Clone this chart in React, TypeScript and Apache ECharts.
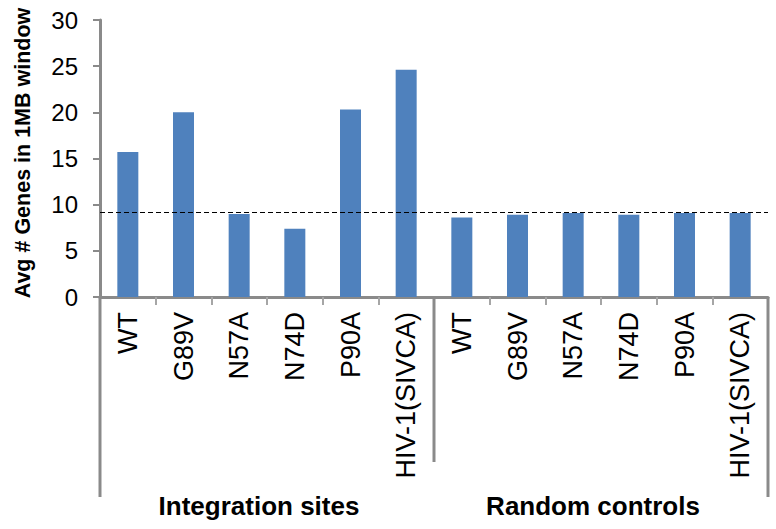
import React, { useEffect, useRef } from "react";
import * as echarts from "echarts";

const categories = ["WT", "G89V", "N57A", "N74D", "P90A", "HIV-1(SIVCA)", "WT", "G89V", "N57A", "N74D", "P90A", "HIV-1(SIVCA)"];
const values = [15.7, 20.0, 9.0, 7.4, 20.3, 24.6, 8.6, 8.9, 9.1, 8.9, 9.1, 9.1];
const groups = ["Integration sites", "Random controls"];
const groupSizes = [6, 6];
const referenceLevel = 9.15;
const yTicks = [0, 5, 10, 15, 20, 25, 30];
const yTitle = "Avg # Genes in 1MB window";

const W = 776;
const H = 529;
const GRID_LEFT = 100;
const GRID_RIGHT = 8;
const GRID_TOP = 20;
const GRID_BOTTOM = 232;
const FONT = "'Liberation Sans', Arial, Helvetica, sans-serif";
const AXIS_GRAY = "#8a8a8a";

export default function App() {
  const ref = useRef<HTMLDivElement>(null);
  useEffect(() => {
    if (!ref.current) return;
    const chart = echarts.init(ref.current, null, { renderer: "svg" });
    const plotW = W - GRID_LEFT - GRID_RIGHT;
    const axisY = H - GRID_BOTTOM;
    const step = plotW / categories.length;
    const boundaries: number[] = [0];
    let acc = 0;
    groupSizes.forEach((s) => {
      acc += s;
      boundaries.push(acc);
    });
    const lines: any[] = boundaries.map((b, i) => ({
      type: "line",
      shape: {
        x1: GRID_LEFT + b * step,
        y1: axisY,
        x2: GRID_LEFT + b * step,
        y2: i === 0 || i === boundaries.length - 1 ? axisY + 200 : axisY + 165,
      },
      style: { stroke: AXIS_GRAY, lineWidth: 3 },
      z: 10,
    }));
    lines.push({
      type: "text",
      x: 23,
      y: 153,
      rotation: Math.PI / 2,
      style: {
        text: yTitle,
        fontSize: 21.5,
        fontWeight: "bold",
        fill: "#000",
        fontFamily: FONT,
        align: "center",
        verticalAlign: "middle",
      },
    });
    chart.setOption({
      animation: false,
      grid: { left: GRID_LEFT, right: GRID_RIGHT, top: GRID_TOP, bottom: GRID_BOTTOM, containLabel: false },
      xAxis: [
        {
          type: "category",
          data: categories,
          position: "bottom",
          axisLine: { show: true, lineStyle: { color: AXIS_GRAY, width: 3 } },
          axisTick: { show: true, length: 8, lineStyle: { color: "#a6a6a6", width: 2 } },
          axisLabel: {
            rotate: 90,
            interval: 0,
            margin: 15,
            fontSize: 27,
            color: "#000",
            fontFamily: FONT,
          },
        },
        {
          type: "category",
          data: groups,
          position: "bottom",
          axisLine: { show: false },
          axisTick: { show: false },
          axisLabel: {
            interval: 0,
            margin: 196,
            fontSize: 26,
            fontWeight: "bold",
            color: "#000",
            fontFamily: FONT,
            padding: [0, 16, 0, 0],
          },
        },
      ],
      yAxis: {
        type: "value",
        min: yTicks[0],
        max: yTicks[yTicks.length - 1],
        interval: 5,
        axisLine: { show: true, lineStyle: { color: AXIS_GRAY, width: 3 } },
        axisTick: { show: true, length: 7, lineStyle: { color: AXIS_GRAY, width: 2 } },
        axisLabel: { fontSize: 24, color: "#000", margin: 22, fontFamily: FONT },
        splitLine: { show: false },
      },
      series: [
        {
          type: "bar",
          data: values,
          barWidth: 21,
          itemStyle: { color: "#4F81BD" },
          markLine: {
            silent: true,
            symbol: ["none", "none"],
            label: { show: false },
            lineStyle: { color: "#000", type: [5, 3], width: 1 },
            data: [{ yAxis: referenceLevel }],
          },
        },
      ],
      graphic: lines,
    });
    return () => chart.dispose();
  }, []);
  return <div ref={ref} style={{ width: W, height: H, position: "absolute", left: 0, top: 0 }} />;
}
